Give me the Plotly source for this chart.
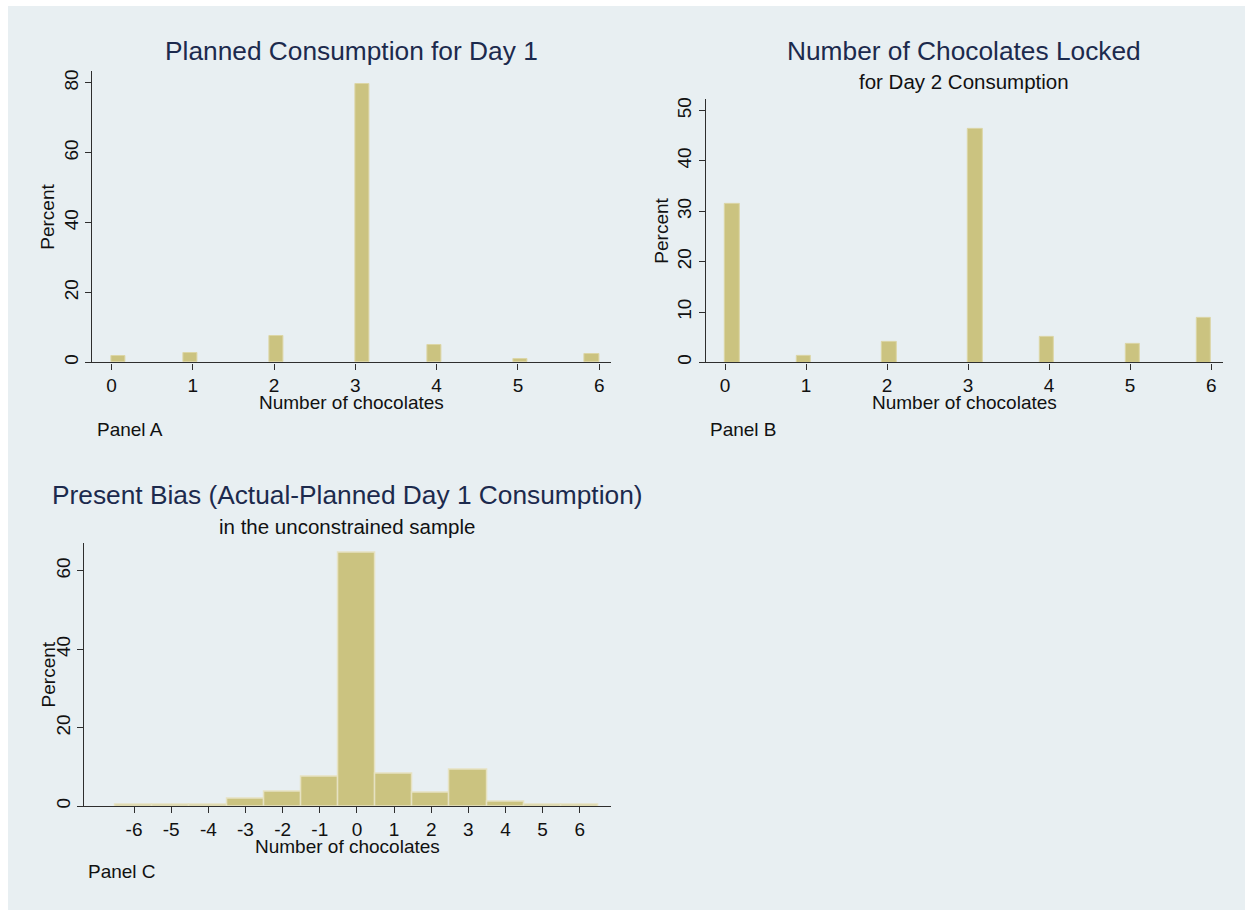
import numpy as np
import plotly.graph_objects as go

# ---------------- data ----------------
chocolates = [0, 1, 2, 3, 4, 5, 6]
planned_day1_pct = [1.8, 2.7, 7.7, 79.8, 5.1, 1.0, 2.3]
locked_day2_pct = [31.4, 1.25, 4.15, 46.3, 5.0, 3.6, 8.8]

bias_values = [-6, -5, -4, -3, -2, -1, 0, 1, 2, 3, 4, 5, 6]
bias_pct = [0.4, 0.4, 0.4, 1.9, 3.7, 7.45, 64.6, 8.2, 3.4, 9.4, 1.1, 0.4, 0.4]

titles = ["Planned Consumption for Day 1", "Number of Chocolates Locked",
          "Present Bias (Actual-Planned Day 1 Consumption)"]
subtitles = ["", "for Day 2 Consumption", "in the unconstrained sample"]
notes = ["Panel A", "Panel B", "Panel C"]
x_title = "Number of chocolates"
y_title = "Percent"

# ---------------- styling ----------------
W, H = 1250, 915
BAR = "#cbc380"
BAR_LINE = "#dcd6a6"
BG = "#e8eff2"
GRID = "#e8eff2"
TITLE_COL = "#1c2a4d"
TXT = "#111111"
FONT = "Liberation Sans, Arial, sans-serif"


def px(x):
    return x / W


def py(y):
    return (H - y) / H


# Stata-like histogram binning (34 bins on [0, 6]) for panels A and B
NBINS = 34
lo, hi = 0.0, 6.0
bw = (hi - lo) / NBINS


def bin_centers(vals):
    idx = np.minimum(np.floor((np.array(vals, float) - lo) / bw + 1e-9), NBINS - 1)
    return lo + idx * bw + bw / 2


fig = go.Figure()

fig.add_trace(go.Bar(x=bin_centers(chocolates), y=planned_day1_pct, width=bw,
                     marker=dict(color=BAR, line=dict(color=BAR_LINE, width=1)),
                     xaxis="x", yaxis="y", showlegend=False))
fig.add_trace(go.Bar(x=bin_centers(chocolates), y=locked_day2_pct, width=bw,
                     marker=dict(color=BAR, line=dict(color=BAR_LINE, width=1)),
                     xaxis="x2", yaxis="y2", showlegend=False))
fig.add_trace(go.Bar(x=bias_values, y=bias_pct, width=1.0,
                     marker=dict(color=BAR, line=dict(color="#e6e2c2", width=1.5)),
                     xaxis="x3", yaxis="y3", showlegend=False))

# plot-area pixel boxes (left, right, top, bottom)
boxes = [(92.4, 610.6, 69.3, 362.0), (705.8, 1222.5, 97.3, 362.0), (84.3, 610.6, 543.0, 807.7)]
xranges = [[-0.235, 6.14], [-0.237, 6.14], [-7.34, 6.83]]
yranges = [[0, 83.4], [0, 52.3], [0, 67.2]]
xticks = [chocolates, chocolates, bias_values]
yticks = [[0, 20, 40, 60, 80], [0, 10, 20, 30, 40, 50], [0, 20, 40, 60]]

axis_common = dict(showline=True, linecolor="#2e2e2e", linewidth=1.3,
                   ticks="outside", ticklen=6, tickcolor="#2e2e2e", tickwidth=1.3,
                   tickfont=dict(family=FONT, size=19, color=TXT), zeroline=False)

layout = dict(width=W, height=H, autosize=False,
              margin=dict(l=0, r=0, t=0, b=0),
              paper_bgcolor="white", plot_bgcolor="white",
              bargap=0, barmode="overlay",
              shapes=[dict(type="rect", xref="paper", yref="paper", layer="below",
                           x0=px(8), x1=px(1245), y0=py(912), y1=py(4),
                           fillcolor=BG, line=dict(width=0))],
              annotations=[])

for i in range(3):
    l, r, t, b = boxes[i]
    sx = "" if i == 0 else str(i + 1)
    layout["xaxis" + sx] = dict(domain=[px(l), px(r)], range=xranges[i],
                                anchor="y" + sx, tickvals=xticks[i],
                                ticktext=[str(v) for v in xticks[i]],
                                showgrid=False, **axis_common)
    layout["yaxis" + sx] = dict(domain=[py(b), py(t)], range=yranges[i],
                                anchor="x" + sx, tickvals=yticks[i], tickangle=-90,
                                showgrid=True, gridcolor=GRID, gridwidth=1.5,
                                **axis_common)

# titles / subtitles / axis titles / notes (pixel positions measured from reference)
title_y = [49, 49, 495]
sub_y = [None, 80, 527]
ytitle_x = [48, 662, 48]
xtitle_y = [402, 402, 848]
note_y = [429, 429, 873]
note_x = [95, 708, 86]

for i in range(3):
    l, r, t, b = boxes[i]
    cx = (l + r) / 2
    layout["annotations"].append(dict(text=titles[i], x=px(cx), y=py(title_y[i]),
                                      xref="paper", yref="paper", showarrow=False,
                                      xanchor="center", yanchor="middle",
                                      font=dict(family=FONT, size=26.3, color=TITLE_COL)))
    if subtitles[i]:
        layout["annotations"].append(dict(text=subtitles[i], x=px(cx), y=py(sub_y[i]),
                                          xref="paper", yref="paper", showarrow=False,
                                          xanchor="center", yanchor="middle",
                                          font=dict(family=FONT, size=20.5, color=TXT)))
    layout["annotations"].append(dict(text=y_title, x=px(ytitle_x[i]), y=py((t + b) / 2),
                                      xref="paper", yref="paper", showarrow=False,
                                      textangle=-90, xanchor="center", yanchor="middle",
                                      font=dict(family=FONT, size=19, color=TXT)))
    layout["annotations"].append(dict(text=x_title, x=px(cx), y=py(xtitle_y[i]),
                                      xref="paper", yref="paper", showarrow=False,
                                      xanchor="center", yanchor="middle",
                                      font=dict(family=FONT, size=19, color=TXT)))
    layout["annotations"].append(dict(text=notes[i], x=px(note_x[i]), y=py(note_y[i]),
                                      xref="paper", yref="paper", showarrow=False,
                                      xanchor="left", yanchor="middle",
                                      font=dict(family=FONT, size=19, color=TXT)))

fig.update_layout(**layout)
fig.write_html("out.html",
               config={"displayModeBar": False},
               post_script="document.body.style.margin='0px';document.body.style.overflow='hidden';")
